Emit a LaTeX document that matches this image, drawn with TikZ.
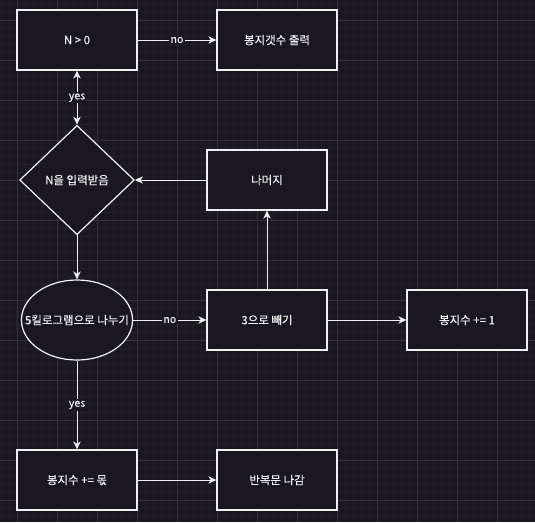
\documentclass[tikz,border=0pt]{standalone}
\usepackage{fontspec}
\setmainfont{Noto Sans CJK KR}[FakeBold=0.3]
\usetikzlibrary{shapes.geometric,arrows.meta}
\definecolor{bg}{HTML}{1A1720}
\definecolor{minorg}{HTML}{221F27}
\definecolor{majorg}{HTML}{333136}
\definecolor{fg}{HTML}{F0F0F0}
\begin{document}
\begin{tikzpicture}[x=0.75pt,y=-0.75pt,
  tip/.style={},
  box/.style={draw=fg,fill=bg,line width=0.9pt,minimum width=90pt,minimum height=45pt,inner sep=0pt,text=fg,font=\fontsize{8.6}{10}\selectfont},
  dia/.style={box,diamond,minimum width=86pt,minimum height=82pt,aspect=1.05,draw=fg!80},
  ell/.style={box,ellipse,minimum width=82.5pt,minimum height=60pt,inner xsep=-9.5pt,draw=fg!80},
  arr/.style={draw=fg,line width=0.75pt,-{Stealth[length=6pt,width=5.5pt,inset=1.8pt]}},
  dblarr/.style={draw=fg,line width=0.75pt,{Stealth[length=6pt,width=5.5pt,inset=1.8pt]}-{Stealth[length=6pt,width=5.5pt,inset=1.8pt]}},
  lab/.style={fill=bg,text=fg,inner sep=1pt,font=\fontsize{8}{9}\selectfont}]
\useasboundingbox (0,0) rectangle (535,522);
\fill[bg] (0,0) rectangle (535,522);
\foreach \x in {1,9,...,535} \draw[minorg,line width=0.5pt] (\x,0) -- (\x,522);
\foreach \y in {4,12,...,522} \draw[minorg,line width=0.5pt] (0,\y) -- (535,\y);
\foreach \x in {17,57,...,535} \draw[majorg,line width=0.5pt] (\x,0) -- (\x,522);
\foreach \y in {20,60,...,522} \draw[majorg,line width=0.5pt] (0,\y) -- (535,\y);

\node[box] (n0) at (77,40) {N > 0};
\node[box] (out) at (277,40) {봉지갯수 출력};
\node[dia] (in) at (77,180) {N을 입력받음};
\node[box] (rem) at (267,180) {나머지};
\node[ell] (div) at (77,320) {5킬로그램으로 나누기};
\node[box] (sub) at (267,320) {3으로 빼기};
\node[box] (inc) at (467,320) {봉지수 += 1};
\node[box] (q) at (77,480) {봉지수 += 몫};
\node[box] (exit) at (277,480) {반복문 나감};

\draw[arr] (n0) -- node[lab]{no} (out);
\draw[dblarr] (in.north) -- node[lab]{yes} (n0.south);
\draw[arr] (rem) -- (in.east);
\draw[arr] (in.south) -- (div.north);
\draw[arr] (div) -- node[lab]{no} (sub);
\draw[arr] (sub) -- (rem);
\draw[arr] (sub) -- (inc);
\draw[arr] (div.south) -- node[lab,pos=0.5]{yes} (q.north);
\draw[arr] (q) -- (exit);
\end{tikzpicture}
\end{document}
